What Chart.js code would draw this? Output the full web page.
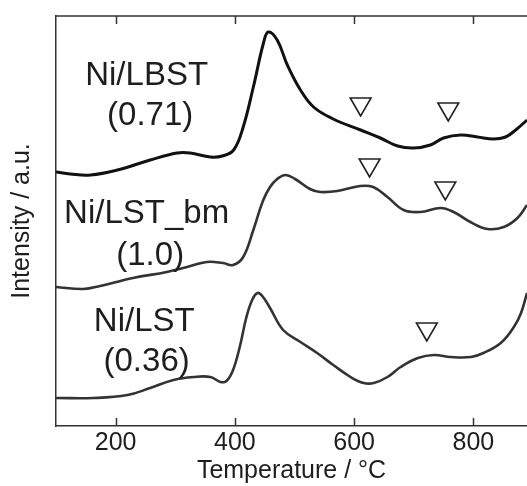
<!DOCTYPE html>
<html>
<head>
<meta charset="utf-8">
<script src="https://cdn.jsdelivr.net/npm/chart.js@4/dist/chart.umd.min.js"></script>
<style>
  html, body { margin: 0; padding: 0; background: #fff; }
  #wrap { width: 527px; height: 486px; }
</style>
</head>
<body>
<div id="wrap"><canvas id="tpr" width="527" height="486"></canvas></div>
<script>
// --- datos (temperatura en oC, intensidad en u.a. con desplazamiento) ---
const tempLBST = [100, 124, 158, 203, 258, 303, 325, 359, 379, 398, 414, 431, 448, 456, 471, 488, 510, 532, 565, 611, 644, 673, 700, 728, 750, 779, 807, 834, 854, 871, 890];
const valLBST  = [254, 252, 251, 256, 266, 273, 273, 269, 270, 276, 299, 339, 383, 394, 386, 361, 336, 319, 307, 296, 288, 280, 278, 281, 288, 291, 289, 287, 289, 296, 306];

const tempBM = [100, 146, 174, 229, 286, 320, 353, 380, 397, 414, 431, 447, 459, 471, 485, 501, 526, 543, 572, 610, 632, 656, 683, 711, 745, 767, 795, 824, 851, 874, 890];
const valBM  = [139, 137, 140, 148, 154, 159, 164, 163, 161, 169, 196, 225, 239, 247, 251, 247, 237, 234, 235, 240, 239, 229, 216, 214, 218, 214, 204, 197, 199, 208, 221];

const tempLST = [100, 163, 220, 258, 297, 331, 359, 376, 386, 397, 409, 419, 429, 438, 446, 459, 481, 510, 538, 565, 594, 616, 633, 656, 678, 707, 734, 762, 796, 817, 846, 868, 880, 890];
const valLST  = [28, 28, 31, 38, 46, 49, 49, 44, 45, 56, 81, 108, 126, 133, 130, 118, 96, 84, 73, 61, 49, 43, 43, 49, 59, 68, 71, 69, 69, 73, 83, 99, 113, 133];

// triangulos (picos marcados)
const markTemp = [611, 758, 626, 753, 722];
const markVal  = [322, 317, 261, 238, 97];

// etiquetas de cada curva
const labelText = ['Ni/LBST', '(0.71)', 'Ni/LST_bm', '(1.0)', 'Ni/LST', '(0.36)'];
const labelTemp = [252, 258, 252, 258, 248, 252];
const labelVal  = [350, 310, 212, 170, 104, 64];

const xTicks = [200, 400, 600, 800];

const FONT = "'Liberation Sans', Arial, sans-serif";

function pts(xs, ys) {
    return xs.map((x, i) => ({ x: x, y: ys[i] }));
}

// plugin: borde superior, ticks hacia dentro y textos de las curvas
const extras = {
    id: 'extras',
    afterDatasetsDraw(chart) {
        const { ctx, chartArea: a, scales: { x, y } } = chart;
        ctx.save();
        ctx.strokeStyle = '#333';
        ctx.lineWidth = 1.5;
        ctx.beginPath();
        ctx.moveTo(a.left, a.top);
        ctx.lineTo(a.right, a.top);
        xTicks.forEach(v => {
            const px = Math.round(x.getPixelForValue(v)) + 0.5;
            ctx.moveTo(px, a.top);
            ctx.lineTo(px, a.top + 8);
            ctx.moveTo(px, a.bottom);
            ctx.lineTo(px, a.bottom - 8);
        });
        ctx.stroke();

        ctx.fillStyle = '#1e1e1e';
        ctx.font = '33px ' + FONT;
        ctx.textAlign = 'center';
        ctx.textBaseline = 'middle';
        labelText.forEach((t, i) => {
            ctx.fillText(t, x.getPixelForValue(labelTemp[i]), y.getPixelForValue(labelVal[i]));
        });
        ctx.restore();
    }
};

const ctx = document.getElementById('tpr').getContext('2d');
new Chart(ctx, {
    type: 'line',
    data: {
        datasets: [
            { label: 'Ni/LBST', data: pts(tempLBST, valLBST), borderColor: '#111', borderWidth: 3, pointRadius: 0, tension: 0.4, fill: false },
            { label: 'Ni/LST_bm', data: pts(tempBM, valBM), borderColor: '#333', borderWidth: 2.6, pointRadius: 0, tension: 0.4, fill: false },
            { label: 'Ni/LST', data: pts(tempLST, valLST), borderColor: '#333', borderWidth: 2.6, pointRadius: 0, tension: 0.4, fill: false },
            {
                label: 'picos',
                data: pts(markTemp, markVal),
                showLine: false,
                pointStyle: 'triangle',
                rotation: 180,
                pointRadius: 12,
                pointBorderWidth: 1.6,
                pointBorderColor: '#222',
                pointBackgroundColor: 'rgba(255,255,255,0)'
            }
        ]
    },
    options: {
        responsive: false,
        devicePixelRatio: 1,
        animation: false,
        layout: { autoPadding: false, padding: { top: 16, right: 0, left: 0, bottom: 0 } },
        plugins: {
            legend: { display: false },
            tooltip: { enabled: false }
        },
        scales: {
            x: {
                type: 'linear',
                min: 100,
                max: 890,
                afterBuildTicks: s => { s.ticks = xTicks.map(v => ({ value: v })); },
                afterFit: s => { s.height = 60; s.paddingLeft = 0; s.paddingRight = 0; },
                grid: { display: false, drawTicks: false },
                border: { display: true, color: '#333', width: 1.5 },
                ticks: { color: '#1e1e1e', padding: 2, font: { family: FONT, size: 25 } },
                title: {
                    display: true,
                    text: 'Temperature / \u00B0C',
                    color: '#1e1e1e',
                    padding: { top: 0, bottom: 0 },
                    font: { family: FONT, size: 25 }
                }
            },
            y: {
                min: 0,
                max: 410,
                afterFit: s => { s.width = 56; },
                grid: { display: false, drawTicks: false },
                border: { display: true, color: '#333', width: 1.5 },
                ticks: { display: false },
                title: {
                    display: true,
                    text: 'Intensity / a.u.',
                    color: '#1e1e1e',
                    padding: { top: 7, bottom: 0 },
                    font: { family: FONT, size: 25 }
                }
            }
        }
    },
    plugins: [extras]
});
</script>
</body>
</html>
